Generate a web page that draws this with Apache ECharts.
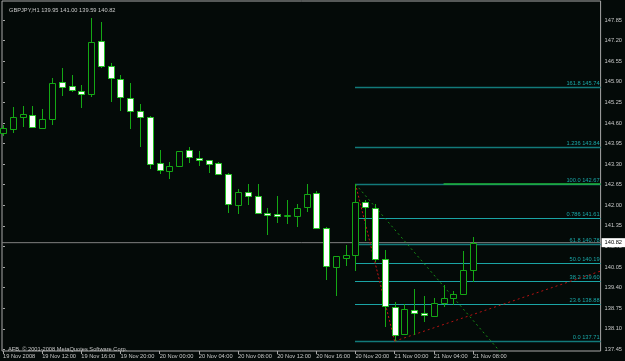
<!DOCTYPE html>
<html><head><meta charset="utf-8">
<script src="https://cdn.jsdelivr.net/npm/echarts@6/dist/echarts.min.js"></script>
<style>html,body{margin:0;padding:0;background:#040a08;}#c{width:625px;height:361px;}</style>
</head><body><div id="c"></div>
<script>
const titleText = 'GBPJPY,H1 139.95 141.00 139.59 140.82';
const footerText = 'AFB, \u00A9 2001-2008 MetaQuotes Software Corp.';
const timeTickIdx = [0,4,8,12,16,20,24,28,32,36,40,44,48];
const timeLabels = ['19 Nov 2008','19 Nov 12:00','19 Nov 16:00','19 Nov 20:00','20 Nov 00:00','20 Nov 04:00','20 Nov 08:00','20 Nov 12:00','20 Nov 16:00','20 Nov 20:00','21 Nov 00:00','21 Nov 04:00','21 Nov 08:00'];
const priceTicks = [137.45,138.10,138.75,139.40,140.05,140.70,141.35,142.00,142.65,143.30,143.95,144.60,145.25,145.90,146.55,147.20,147.85];
const openP  = [144.29,144.40,144.78,144.84,144.45,144.71,145.88,145.76,145.61,145.50,147.18,146.40,146.00,145.39,144.97,144.79,143.33,143.08,143.23,143.74,143.50,143.42,143.32,142.99,142.01,142.42,142.30,141.77,141.72,141.66,141.67,141.95,142.38,141.28,140.05,140.35,140.42,142.09,141.92,140.32,138.80,137.95,138.70,138.61,138.52,138.92,139.06,139.21,139.95];
const highP  = [144.53,145.09,145.12,145.15,145.04,146.01,146.32,146.11,145.80,147.90,147.80,146.50,146.10,145.85,145.19,144.82,143.74,143.37,143.73,143.85,143.71,143.43,143.36,143.02,142.52,142.67,142.67,141.93,142.29,142.18,142.03,142.66,142.45,141.32,140.40,140.74,142.67,142.18,142.03,140.58,138.95,138.87,139.37,139.13,139.06,139.48,139.29,140.55,141.00];
const lowP   = [144.19,144.29,144.48,144.45,144.44,144.53,145.45,145.58,145.08,145.41,146.35,145.27,144.98,144.42,143.85,143.14,142.98,142.84,143.22,143.34,143.24,143.02,143.00,141.76,141.72,142.00,141.76,141.06,141.45,141.40,141.30,141.79,141.26,139.63,139.14,140.09,139.93,140.88,140.21,138.16,137.71,137.92,137.90,138.32,138.51,138.79,138.85,139.21,139.59];
const closeP = [144.43,144.79,144.87,144.48,144.74,145.85,145.74,145.64,145.50,147.15,146.40,146.01,145.41,144.98,144.79,143.29,143.10,143.23,143.72,143.51,143.43,143.30,143.00,142.04,142.42,142.28,141.77,141.70,141.66,141.68,141.93,142.37,141.28,140.07,140.39,140.42,142.11,141.94,140.32,138.81,137.92,138.74,138.60,138.54,138.91,139.06,139.21,139.97,140.82];
const fiboLevels = ['161.8','1.236','100.0','0.786','61.8','50.0','38.2','23.6','0.0'];
const fiboPrices = [145.74,143.84,142.67,141.61,140.78,140.19,139.60,138.88,137.71];
const fiboStrong = [true,true,true,false,true,false,false,false,true];
const fiboStartBar = 36;
const bidPrice = 140.82;
const redFiboBase = [[36,142.67],[40,137.71]];
const redTrend = [[40,137.71],[61,139.92]];
const greenTrend = [[36,142.67],[52,136.94]];
const greenLevel = [[45,142.67],[61.04,142.67]];

const BG = '#040a08', GREEN = '#14a814', GREEN_EDGE = '#22c422';
const FONT = '"Liberation Sans", Arial, sans-serif';
const FS = 5.7;
const XMIN = -0.1017, XMAX = 61.04;

const candleData = openP.map((o, i) => [i, o, closeP[i], lowP[i], highP[i]]);

const chart = echarts.init(document.getElementById('c'), null, {renderer: 'canvas'});
chart.setOption({
  backgroundColor: BG,
  animation: false,
  title: [
    {text: titleText, left: 4, top: 2, textStyle: {color: '#c8c8c8', fontSize: FS, fontWeight: 'normal', fontFamily: FONT}},
    {text: footerText, left: 3, top: 341, textStyle: {color: '#c8c8c8', fontSize: FS, fontWeight: 'normal', fontFamily: FONT}}
  ],
  grid: {left: 1, top: 1, right: 23, bottom: 10, show: true, borderColor: '#a8a8a8', borderWidth: 1, backgroundColor: 'transparent'},
  xAxis: {
    type: 'value', min: XMIN, max: XMAX,
    axisLine: {show: false}, splitLine: {show: false},
    axisTick: {show: true, customValues: timeTickIdx, length: 3, lineStyle: {color: '#a8a8a8'}},
    axisLabel: {show: true, customValues: timeTickIdx, formatter: v => timeLabels[timeTickIdx.indexOf(Math.round(v))] || '',
      align: 'left', margin: 2, color: '#c8c8c8', fontSize: FS, fontFamily: FONT, hideOverlap: false}
  },
  yAxis: {
    type: 'value', position: 'right', min: 137.40, max: 148.45, scale: true,
    axisLine: {show: false}, splitLine: {show: false},
    axisTick: {show: true, customValues: priceTicks, length: 2, lineStyle: {color: '#a8a8a8'}},
    axisLabel: {show: true, customValues: priceTicks, formatter: v => v.toFixed(2), margin: 4,
      color: '#c8c8c8', fontSize: FS, fontFamily: FONT}
  },
  series: [
    {
      type: 'line', data: [[XMIN, bidPrice], [XMAX, bidPrice]], symbol: 'none', silent: true, clip: false, z: 1,
      lineStyle: {color: '#808080', width: 1},
      endLabel: {show: true, formatter: () => bidPrice.toFixed(2), backgroundColor: '#ffffff', color: '#000000',
        fontSize: FS, fontFamily: FONT, padding: [2, 3, 1, 3], distance: 1}
    },
    {
      type: 'custom', z: 2, clip: false,
      data: fiboPrices.map((p, k) => [fiboStartBar, p, k]),
      renderItem: function (params, api) {
        const p = api.value(1), k = api.value(2);
        const s = api.coord([fiboStartBar, p]);
        const right = params.coordSys.x + params.coordSys.width;
        const y = Math.round(s[1]) + 0.5;
        const strong = fiboStrong[k];
        return {type: 'group', children: [
          {type: 'line', shape: {x1: Math.round(s[0]), y1: y, x2: right, y2: y},
           style: {stroke: strong ? '#127a7a' : '#1aa4a4', lineWidth: strong ? 1.4 : 1}},
          {type: 'text', style: {text: fiboLevels[k] + ' ' + p.toFixed(2), x: right - 1, y: y - 1.5,
            align: 'right', verticalAlign: 'bottom', fill: '#1aa8a8', font: FS + 'px ' + FONT}}
        ]};
      }
    },
    {type: 'line', data: greenLevel, symbol: 'none', silent: true, z: 3, lineStyle: {color: '#1fb33a', width: 1.5}},
    {type: 'line', data: redFiboBase, symbol: 'none', silent: true, z: 4, lineStyle: {color: '#c81414', width: 1, type: [2, 2]}},
    {type: 'line', data: redTrend, symbol: 'none', silent: true, z: 4, lineStyle: {color: '#b41212', width: 1, type: [2, 3]}},
    {type: 'line', data: greenTrend, symbol: 'none', silent: true, z: 4, clip: true, lineStyle: {color: '#168e16', width: 1, type: [2, 3]}},
    {
      type: 'custom', z: 5, clip: false,
      data: candleData,
      renderItem: function (params, api) {
        const i = api.value(0), o = api.value(1), c = api.value(2), l = api.value(3), h = api.value(4);
        const pO = api.coord([i, o]), pC = api.coord([i, c]), pL = api.coord([i, l]), pH = api.coord([i, h]);
        const x = Math.round(pO[0]) + 0.5;
        const top = Math.round(Math.min(pO[1], pC[1])) + 0.5;
        const bot = Math.round(Math.max(pO[1], pC[1])) + 0.5;
        const bull = c >= o;
        return {type: 'group', children: [
          {type: 'line', shape: {x1: x, y1: Math.round(pH[1]), x2: x, y2: Math.round(pL[1])}, style: {stroke: GREEN, lineWidth: 1}},
          {type: 'rect', shape: {x: x - 3, y: top, width: 6, height: Math.max(bot - top, 1)},
           style: {fill: bull ? BG : '#ffffff', stroke: bull ? GREEN : GREEN_EDGE, lineWidth: 1}}
        ]};
      }
    }
  ]
});
</script></body></html>
